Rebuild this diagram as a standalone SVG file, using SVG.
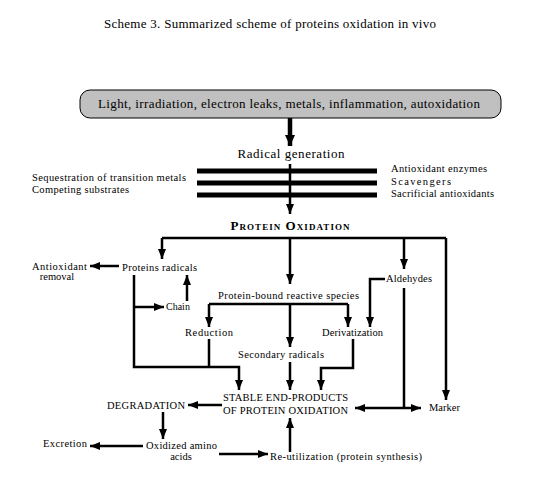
<svg xmlns="http://www.w3.org/2000/svg" width="540" height="480" viewBox="0 0 540 480" font-family="'Liberation Serif', 'DejaVu Serif', 'Times New Roman', serif">
<defs>
<style>
text{fill:#000}
.t{font-size:10.5px}
.m{font-size:13px}
.sc{font-size:13px;font-weight:bold;font-variant:small-caps}
.c{text-anchor:middle}
.ln{fill:none;stroke:#000;stroke-width:2.5}
.bar{stroke:#000;stroke-width:5}
</style>
<marker id="ah" markerUnits="userSpaceOnUse" markerWidth="10" markerHeight="8" refX="10" refY="4" orient="auto">
<path d="M0,0 L10,4 L0,8 z" fill="#000"/>
</marker>
<marker id="ahb" markerUnits="userSpaceOnUse" markerWidth="11" markerHeight="10" refX="11" refY="5" orient="auto">
<path d="M0,0 L11,5 L0,10 z" fill="#000"/>
</marker>
</defs>
<rect width="540" height="480" fill="#fff"/>
<text id="title" class="m c" x="270" y="28" textLength="332">Scheme 3. Summarized scheme of proteins oxidation in vivo</text>

<g id="sources">
<rect x="80" y="90" width="421" height="28" rx="10" ry="10" fill="#c0c0c0" stroke="#000" stroke-width="1"/>
<text class="m c" x="289" y="108" textLength="382">Light, irradiation, electron leaks, metals, inflammation, autoxidation</text>
</g>
<g id="radical"><text class="m c" x="291" y="158" textLength="107">Radical generation</text></g>
<g id="barrier">
<line class="bar" x1="197" y1="171" x2="377" y2="171"/>
<line class="bar" x1="197" y1="183" x2="377" y2="183"/>
<line class="bar" x1="197" y1="195" x2="377" y2="195"/>
</g>
<g id="left-defenses">
<text class="t" x="32" y="181" textLength="154">Sequestration of transition metals</text>
<text class="t" x="32" y="193" textLength="97">Competing substrates</text>
</g>
<g id="right-defenses">
<text class="t" x="391" y="172" textLength="96">Antioxidant enzymes</text>
<text class="t" x="391" y="185" textLength="60">Scavengers</text>
<text class="t" x="391" y="197" textLength="103">Sacrificial antioxidants</text>
</g>
<g id="protein-oxidation"><text class="sc c" x="290" y="230" textLength="119">Protein Oxidation</text></g>
<g id="proteins-radicals"><text class="t" x="122" y="271" textLength="75">Proteins radicals</text></g>
<g id="antioxidant-removal">
<text class="t" x="32" y="270" textLength="55">Antioxidant</text>
<text class="t c" x="57" y="280">removal</text>
</g>
<g id="aldehydes"><text class="t" x="386" y="282" textLength="46">Aldehydes</text></g>
<g id="protein-bound"><text class="t" x="218" y="299" textLength="141">Protein-bound reactive species</text></g>
<g id="chain"><text x="166" y="310" font-size="10">Chain</text></g>
<g id="reduction"><text class="t" x="185" y="336" textLength="48">Reduction</text></g>
<g id="derivatization"><text class="t" x="322" y="336" textLength="61">Derivatization</text></g>
<g id="secondary"><text class="t" x="238" y="358" textLength="86">Secondary radicals</text></g>
<g id="stable">
<text class="t" x="223" y="401" textLength="125">STABLE END-PRODUCTS</text>
<text class="t" x="223" y="414" textLength="125">OF PROTEIN OXIDATION</text>
</g>
<g id="degradation"><text class="t" x="107" y="409" textLength="78">DEGRADATION</text></g>
<g id="marker-node"><text class="t" x="429" y="411" textLength="31">Marker</text></g>
<g id="excretion"><text class="t" x="43" y="447" textLength="44">Excretion</text></g>
<g id="oxidized">
<text class="t" x="146" y="449" textLength="71">Oxidized amino</text>
<text class="t c" x="181" y="460">acids</text>
</g>
<g id="reutilization"><text class="t" x="270" y="460" textLength="152">Re-utilization (protein synthesis)</text></g>

<g id="connectors">
<path d="M290,118 V146" fill="none" stroke="#000" stroke-width="4.5" marker-end="url(#ahb)"/>
<path class="ln" d="M290,164 V214" marker-end="url(#ah)"/>
<path class="ln" d="M162,238 H446"/>
<path class="ln" d="M162,238 V259" marker-end="url(#ah)"/>
<path class="ln" d="M290,238 V284" marker-end="url(#ah)"/>
<path class="ln" d="M404,238 V269" marker-end="url(#ah)"/>
<path class="ln" d="M446,238 V400" marker-end="url(#ah)"/>
<path class="ln" d="M119,266 H90" marker-end="url(#ah)"/>
<path class="ln" d="M134,275 V367 H239 V390" marker-end="url(#ah)"/>
<path class="ln" d="M134,307 H164" marker-end="url(#ah)"/>
<path class="ln" d="M187,301 V275" marker-end="url(#ah)"/>
<path class="ln" d="M209,304 H348"/>
<path class="ln" d="M209,304 V327" marker-end="url(#ah)"/>
<path class="ln" d="M348,304 V327" marker-end="url(#ah)"/>
<path class="ln" d="M290,304 V347" marker-end="url(#ah)"/>
<path class="ln" d="M385,279 H370 V327" marker-end="url(#ah)"/>
<path class="ln" d="M404,288 V408"/>
<path class="ln" d="M404,408 H355" marker-end="url(#ah)"/>
<path class="ln" d="M404,408 H421" marker-end="url(#ah)"/>
<path class="ln" d="M353,339 V368 H321 V390" marker-end="url(#ah)"/>
<path class="ln" d="M209,339 V367"/>
<path class="ln" d="M290,362 V390" marker-end="url(#ah)"/>
<path class="ln" d="M222,405 H188" marker-end="url(#ah)"/>
<path class="ln" d="M163,412 V439" marker-end="url(#ah)"/>
<path class="ln" d="M143,446 H90" marker-end="url(#ah)"/>
<path class="ln" d="M219,454 H268" marker-end="url(#ah)"/>
<path class="ln" d="M290,452 V418" marker-end="url(#ah)"/>
</g>
</svg>
